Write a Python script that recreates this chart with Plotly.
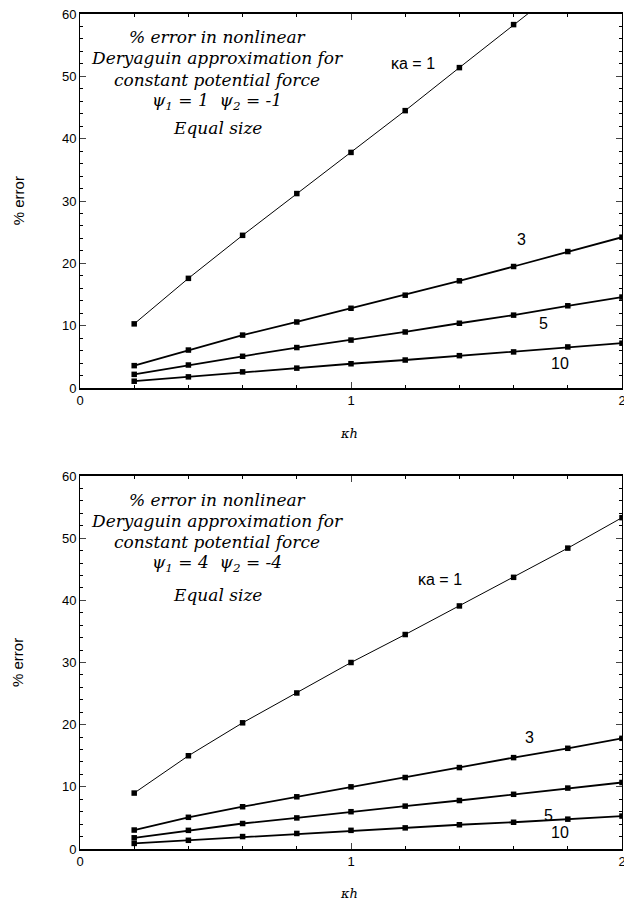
import plotly.graph_objects as go

kh = [0.2, 0.4, 0.6, 0.8, 1.0, 1.2, 1.4, 1.6, 1.8, 2.0]

# Top panel: psi1 = 1, psi2 = -1
top_ka1 = [10.3, 17.6, 24.5, 31.2, 37.8, 44.5, 51.4, 58.3, 65.1, 71.9]
top_ka3 = [3.6, 6.1, 8.5, 10.6, 12.8, 14.9, 17.2, 19.5, 21.9, 24.2]
top_ka5 = [2.2, 3.7, 5.1, 6.5, 7.7, 9.0, 10.4, 11.7, 13.2, 14.6]
top_ka10 = [1.1, 1.8, 2.6, 3.2, 3.9, 4.5, 5.2, 5.8, 6.6, 7.2]

# Bottom panel: psi1 = 4, psi2 = -4
bot_ka1 = [9.0, 15.0, 20.3, 25.1, 30.0, 34.5, 39.1, 43.7, 48.4, 53.3]
bot_ka3 = [3.05, 5.1, 6.8, 8.4, 10.0, 11.5, 13.1, 14.7, 16.2, 17.8]
bot_ka5 = [1.8, 3.0, 4.1, 5.0, 6.0, 6.9, 7.8, 8.8, 9.8, 10.7]
bot_ka10 = [0.9, 1.4, 2.0, 2.5, 3.0, 3.4, 3.9, 4.3, 4.8, 5.3]

x_ticks = [0, 1, 2]
y_ticks = [0, 10, 20, 30, 40, 50, 60]

fig = go.Figure()

def add_series(y, xa, ya, width):
    fig.add_trace(go.Scatter(
        x=kh, y=y, xaxis=xa, yaxis=ya, mode="lines+markers",
        line=dict(color="black", width=width),
        marker=dict(symbol="square", size=5.5, color="black"),
        showlegend=False, cliponaxis=True))

add_series(top_ka1, "x", "y", 1)
add_series(top_ka3, "x", "y", 1.8)
add_series(top_ka5, "x", "y", 1.8)
add_series(top_ka10, "x", "y", 1.8)
add_series(bot_ka1, "x2", "y2", 1)
add_series(bot_ka3, "x2", "y2", 1.8)
add_series(bot_ka5, "x2", "y2", 1.8)
add_series(bot_ka10, "x2", "y2", 1.8)

tickfont = dict(family="Liberation Sans, Arial", size=13, color="black")
xax = dict(range=[0, 2], tickvals=x_ticks, ticks="inside", ticklen=6,
           showline=True, linecolor="black", linewidth=1.5, mirror="ticks",
           showgrid=False, zeroline=False, tickfont=tickfont, ticklabeloverflow="allow",
           automargin=False,
           minor=dict(dtick=0.2, ticks="inside", ticklen=3, tickcolor="black", showgrid=False))
yax = dict(range=[0, 60], tickvals=y_ticks, ticks="inside", ticklen=6,
           showline=True, linecolor="black", linewidth=1, mirror="ticks",
           showgrid=False, zeroline=False, tickfont=tickfont, ticklabeloverflow="allow",
           automargin=False,
           minor=dict(dtick=2, ticks="inside", ticklen=3, tickcolor="black", showgrid=False))

fig.update_layout(
    width=624, height=901,
    margin=dict(l=80, r=2, t=14, b=52, autoexpand=False),
    plot_bgcolor="white", paper_bgcolor="white",
    xaxis=dict(xax, domain=[0, 1], anchor="y"),
    yaxis=dict(yax, domain=[0.552, 1], anchor="x"),
    xaxis2=dict(xax, domain=[0, 1], anchor="y2"),
    yaxis2=dict(yax, domain=[0, 0.4467], anchor="x2"),
)

serif = dict(family="DejaVu Serif", size=17, color="black")
sans = dict(family="Liberation Sans, Arial", size=15, color="black")

def text_block(xr, yr, lines_y, psi_text):
    texts = ["<i>% error in nonlinear</i>",
             "<i>Deryaguin approximation for</i>",
             "<i>constant potential force</i>",
             psi_text,
             "<i>Equal size</i>"]
    for t, yy in zip(texts, lines_y):
        fig.add_annotation(x=0.507, y=yy, xref=xr, yref=yr, text=t,
                           showarrow=False, font=serif, xanchor="center", yanchor="middle")

text_block("x", "y", [56.3, 53.0, 49.4, 46.0, 41.7],
           "<i>ψ<sub>1</sub> = 1&nbsp;&nbsp;ψ<sub>2</sub> = -1</i>")
text_block("x2", "y2", [56.1, 52.7, 49.4, 45.9, 40.8],
           "<i>ψ<sub>1</sub> = 4&nbsp;&nbsp;ψ<sub>2</sub> = -4</i>")

# curve labels
for xr, yr, items in [
    ("x", "y", [(1.23, 52.0, "κa = 1"), (1.63, 23.8, "3"), (1.71, 10.3, "5"), (1.77, 4.0, "10")]),
    ("x2", "y2", [(1.33, 43.4, "κa = 1"), (1.66, 18.0, "3"), (1.73, 5.4, "5"), (1.77, 2.6, "10")]),
]:
    for xx, yy, t in items:
        fig.add_annotation(x=xx, y=yy, xref=xr, yref=yr, text=t, showarrow=False,
                           font=dict(family="Liberation Sans, Arial", size=16, color="black"),
                           xanchor="center", yanchor="middle")

# axis titles
for yy in [0.776, 0.223]:
    fig.add_annotation(x=-0.114, y=yy, xref="paper", yref="paper", text="% error",
                       textangle=-90, showarrow=False, font=sans,
                       xanchor="center", yanchor="middle")
for yy in [0.498, -0.0527]:
    fig.add_annotation(x=0.497, y=yy, xref="paper", yref="paper", text="<i>κh</i>",
                       showarrow=False, font=dict(family="DejaVu Serif", size=13, color="black"),
                       xanchor="center", yanchor="middle")

fig.write_html("out.html")
